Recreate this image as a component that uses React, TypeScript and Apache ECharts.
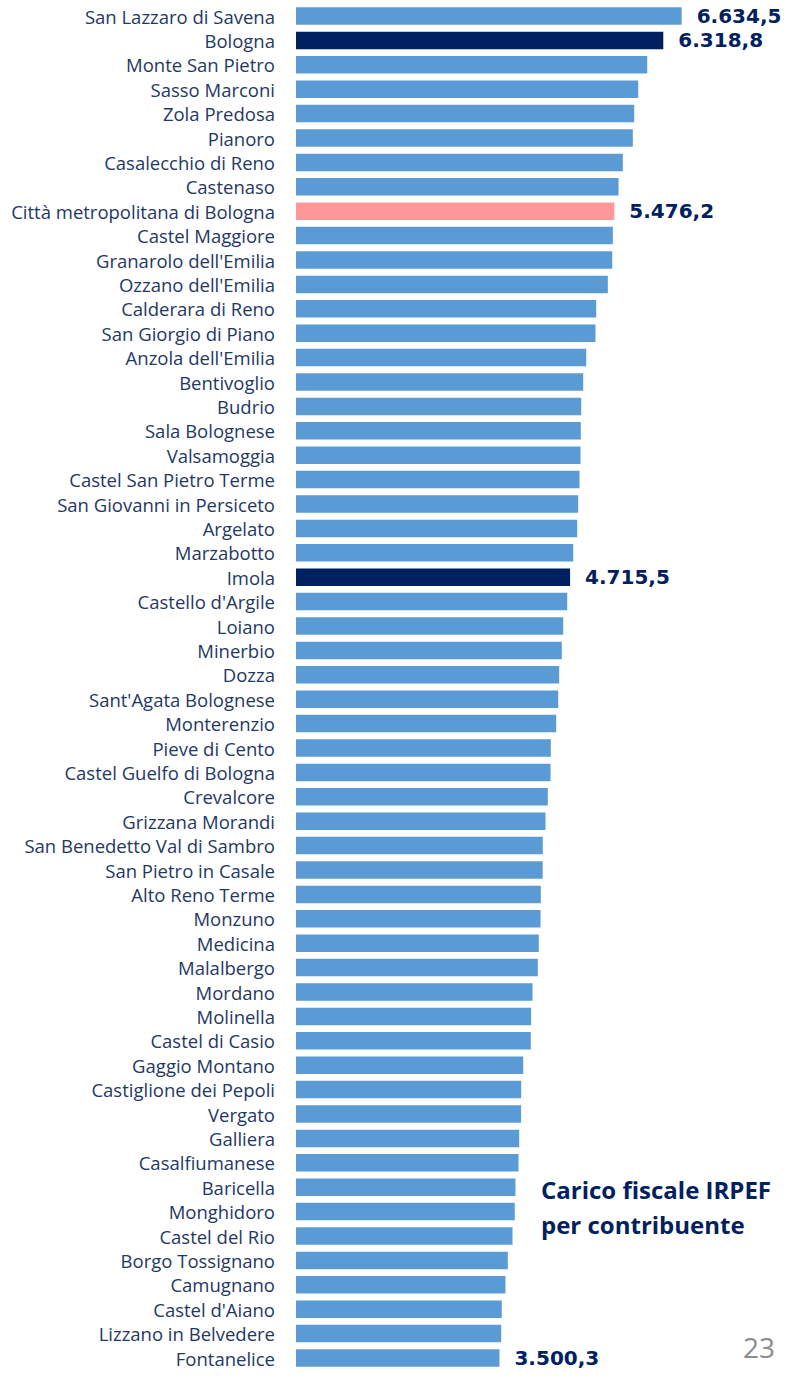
import React, { useEffect, useRef } from "react";
import * as echarts from "echarts";

const categories = [
  "San Lazzaro di Savena", "Bologna", "Monte San Pietro", "Sasso Marconi", "Zola Predosa",
  "Pianoro", "Casalecchio di Reno", "Castenaso", "Città metropolitana di Bologna", "Castel Maggiore",
  "Granarolo dell'Emilia", "Ozzano dell'Emilia", "Calderara di Reno", "San Giorgio di Piano",
  "Anzola dell'Emilia", "Bentivoglio", "Budrio", "Sala Bolognese", "Valsamoggia",
  "Castel San Pietro Terme", "San Giovanni in Persiceto", "Argelato", "Marzabotto", "Imola",
  "Castello d'Argile", "Loiano", "Minerbio", "Dozza", "Sant'Agata Bolognese", "Monterenzio",
  "Pieve di Cento", "Castel Guelfo di Bologna", "Crevalcore", "Grizzana Morandi",
  "San Benedetto Val di Sambro", "San Pietro in Casale", "Alto Reno Terme", "Monzuno",
  "Medicina", "Malalbergo", "Mordano", "Molinella", "Castel di Casio", "Gaggio Montano",
  "Castiglione dei Pepoli", "Vergato", "Galliera", "Casalfiumanese", "Baricella",
  "Monghidoro", "Castel del Rio", "Borgo Tossignano", "Camugnano", "Castel d'Aiano",
  "Lizzano in Belvedere", "Fontanelice",
];

const values = [
  6634.5, 6318.8, 6043, 5888, 5819, 5795, 5623, 5549, 5476.2, 5451,
  5441, 5365, 5165, 5153, 4993, 4941, 4907, 4900, 4895, 4878,
  4855, 4838, 4769, 4715.5, 4666, 4597, 4573, 4528, 4511, 4477,
  4384, 4379, 4332, 4293, 4246, 4244, 4212, 4207, 4177, 4160,
  4069, 4046, 4040, 3909, 3874, 3872, 3840, 3828, 3776, 3764,
  3725, 3644, 3604, 3540, 3530, 3500.3,
];

const highlightDark = ["Bologna", "Imola"];
const highlightPink = ["Città metropolitana di Bologna"];
const labelled = ["San Lazzaro di Savena", "Bologna", "Città metropolitana di Bologna", "Imola", "Fontanelice"];

const titleLines = ["Carico fiscale IRPEF", "per contribuente"];
const pageNumber = "23";

function fmtIt(v: number): string {
  const [i, d] = v.toFixed(1).split(".");
  const withDots = i.replace(/\B(?=(\d{3})+(?!\d))/g, ".");
  return withDots + "," + d;
}

export default function App() {
  const ref = useRef<HTMLDivElement>(null);
  useEffect(() => {
    if (!ref.current) return;
    const chart = echarts.init(ref.current, null, { renderer: "svg" });
    const data = categories.map((c, i) => {
      let color = "#5B9BD5";
      if (highlightDark.includes(c)) color = "#002060";
      if (highlightPink.includes(c)) color = "#FF9999";
      return {
        value: values[i],
        itemStyle: { color },
        label: { show: labelled.includes(c) },
      };
    });
    chart.setOption({
      animation: false,
      textStyle: { fontFamily: "Open Sans" },
      grid: { left: 296, right: 26, top: 3.8, bottom: 1382 - 1370.2, containLabel: false },
      xAxis: {
        type: "value",
        min: 0,
        max: 8000,
        show: false,
      },
      yAxis: {
        type: "category",
        data: categories,
        inverse: true,
        axisLine: { show: false },
        axisTick: { show: false },
        axisLabel: {
          interval: 0,
          color: "#1F3864",
          fontSize: 18.5,
          lineHeight: 20,
          fontFamily: "Open Sans",
          margin: 21,
        },
      },
      series: [
        {
          type: "bar",
          data,
          barWidth: 17.5,
          label: {
            position: "right",
            distance: 15,
            color: "#002060",
            fontWeight: "bold",
            fontSize: 20,
            lineHeight: 20,
            fontFamily: "DejaVu Sans",
            formatter: (p: any) => fmtIt(p.value),
          },
        },
      ],
      graphic: [
        {
          type: "text",
          left: 541,
          top: 1172,
          style: {
            text: titleLines.join("\n"),
            fill: "#002060",
            font: "bold 24px 'Open Sans'",
            lineHeight: 35,
          },
        },
        {
          type: "text",
          left: 743,
          top: 1333,
          style: {
            text: pageNumber,
            fill: "#8C8C8C",
            font: "28px 'Open Sans'",
          },
        },
      ],
    });
    return () => chart.dispose();
  }, []);
  return (
    <div
      ref={ref}
      style={{ position: "absolute", left: 0, top: 0, width: 787, height: 1382, background: "#fff" }}
    />
  );
}
